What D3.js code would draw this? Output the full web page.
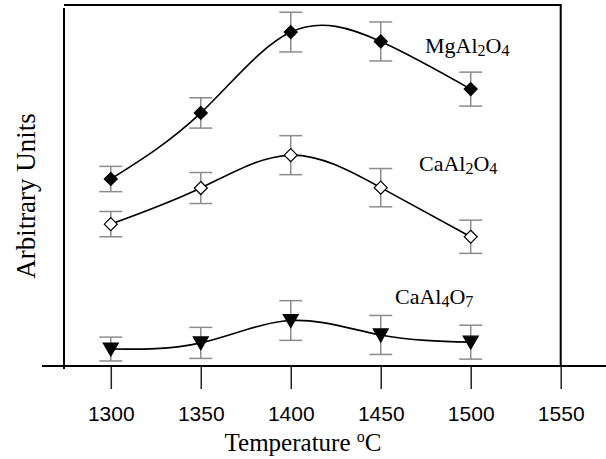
<!DOCTYPE html>
<html>
<head>
<meta charset="utf-8">
<script src="https://cdn.jsdelivr.net/npm/d3@7"></script>
<style>
  body { margin: 0; background: #fff; }
  svg { display: block; }
</style>
</head>
<body>
<svg id="chart" width="606" height="459"></svg>
<script>
// data (arbitrary units, 0 = x axis)
const temps = [1300, 1350, 1400, 1450, 1500];
const xTicks = [1300, 1350, 1400, 1450, 1500, 1550];

const mgAl2O4 = [51.8, 70.1, 92.5, 89.9, 76.7];
const mgErr = [3.5, 4.2, 5.5, 5.4, 4.7];

const caAl2O4 = [39.3, 49.3, 58.4, 49.4, 35.8];
const caAl2Err = [3.5, 4.3, 5.4, 5.3, 4.6];

const caAl4O7 = [4.7, 6.4, 12.6, 8.6, 6.6];
const caAl4Err = [3.3, 4.3, 5.5, 5.4, 4.7];

const svg = d3.select("#chart");

const x = d3.scaleLinear().domain([1274, 1550]).range([64, 560.7]);
const y = d3.scaleLinear().domain([0, 100]).range([366, 5]);

const errColor = "#8c8c8c";

// frame
svg.append("line")
  .attr("x1", x(1274)).attr("x2", x(1550) + 1)
  .attr("y1", 5).attr("y2", 5)
  .attr("stroke", "#000").attr("stroke-width", 2);
svg.append("line")
  .attr("x1", x(1274)).attr("x2", x(1274))
  .attr("y1", 8).attr("y2", 369)
  .attr("stroke", "#000").attr("stroke-width", 2);
svg.append("line")
  .attr("x1", x(1550)).attr("x2", x(1550))
  .attr("y1", 5).attr("y2", 366)
  .attr("stroke", "#000").attr("stroke-width", 2);

// x axis
const xAxis = d3.axisBottom(x)
  .tickValues(xTicks)
  .tickSize(23)
  .tickFormat(d3.format("d"));

const gx = svg.append("g")
  .attr("transform", `translate(0,${y(0)})`)
  .call(xAxis);
gx.select(".domain").remove();
gx.selectAll(".tick line").attr("stroke", "#222").attr("stroke-width", 1.5);
gx.selectAll(".tick text")
  .attr("y", 48)
  .attr("dy", "0.35em")
  .attr("fill", "#000")
  .attr("font-family", "Liberation Sans, Arial, sans-serif")
  .attr("font-size", 21);

svg.append("line")
  .attr("x1", 42).attr("x2", 606)
  .attr("y1", y(0)).attr("y2", y(0))
  .attr("stroke", "#000").attr("stroke-width", 2);

// axis titles
const xTitle = svg.append("text")
  .attr("x", 303).attr("y", 451)
  .attr("text-anchor", "middle")
  .attr("font-family", "Liberation Serif, Times New Roman, serif")
  .attr("font-size", 25);
xTitle.append("tspan").text("Temperature ");
xTitle.append("tspan").attr("font-size", 16).attr("dy", -9).text("o");
xTitle.append("tspan").attr("dy", 9).text("C");

svg.append("text")
  .attr("transform", "translate(35,196) rotate(-90)")
  .attr("text-anchor", "middle")
  .attr("font-family", "Liberation Serif, Times New Roman, serif")
  .attr("font-size", 27)
  .text("Arbitrary Units");

// series
const series = [
  { name: ["MgAl", "2", "O", "4"], values: mgAl2O4, err: mgErr, marker: "diamond", fill: "#000", lx: 425, ly: 53 },
  { name: ["CaAl", "2", "O", "4"], values: caAl2O4, err: caAl2Err, marker: "diamond", fill: "#fff", lx: 419, ly: 171 },
  { name: ["CaAl", "4", "O", "7"], values: caAl4O7, err: caAl4Err, marker: "triangle", fill: "#000", lx: 395, ly: 304 }
];

const line = d3.line()
  .x(d => x(d[0]))
  .y(d => y(d[1]))
  .curve(d3.curveNatural);

const capHalf = 11.5;

series.forEach(s => {
  const pts = temps.map((t, i) => [t, s.values[i], s.err[i]]);

  // error bars
  const eb = svg.append("g").attr("stroke", errColor).attr("stroke-width", 1.5);
  pts.forEach(p => {
    const cx = x(p[0]);
    eb.append("line").attr("x1", cx).attr("x2", cx)
      .attr("y1", y(p[1] + p[2])).attr("y2", y(p[1] - p[2]));
    eb.append("line").attr("x1", cx - capHalf).attr("x2", cx + capHalf)
      .attr("y1", y(p[1] + p[2])).attr("y2", y(p[1] + p[2]));
    eb.append("line").attr("x1", cx - capHalf).attr("x2", cx + capHalf)
      .attr("y1", y(p[1] - p[2])).attr("y2", y(p[1] - p[2]));
  });

  svg.append("path")
    .datum(pts)
    .attr("d", line)
    .attr("fill", "none")
    .attr("stroke", "#000")
    .attr("stroke-width", 1.6);

  const markers = svg.append("g");
  pts.forEach(p => {
    const cx = x(p[0]), cy = y(p[1]);
    let d;
    if (s.marker === "diamond") {
      const r = 6.5;
      d = `M${cx},${cy - r}L${cx + r},${cy}L${cx},${cy + r}L${cx - r},${cy}Z`;
    } else {
      d = `M${cx - 7.5},${cy - 6}L${cx + 7.5},${cy - 6}L${cx},${cy + 7}Z`;
    }
    markers.append("path")
      .attr("d", d)
      .attr("fill", s.fill)
      .attr("stroke", "#000")
      .attr("stroke-width", 1.2);
  });

  // label with subscripts
  const t = svg.append("text")
    .attr("x", s.lx).attr("y", s.ly)
    .attr("font-family", "Liberation Serif, Times New Roman, serif")
    .attr("font-size", 22);
  t.append("tspan").text(s.name[0]);
  t.append("tspan").attr("font-size", 16).attr("dy", 3).text(s.name[1]);
  t.append("tspan").attr("dy", -3).text(s.name[2]);
  t.append("tspan").attr("font-size", 16).attr("dy", 3).text(s.name[3]);
});
</script>
</body>
</html>
